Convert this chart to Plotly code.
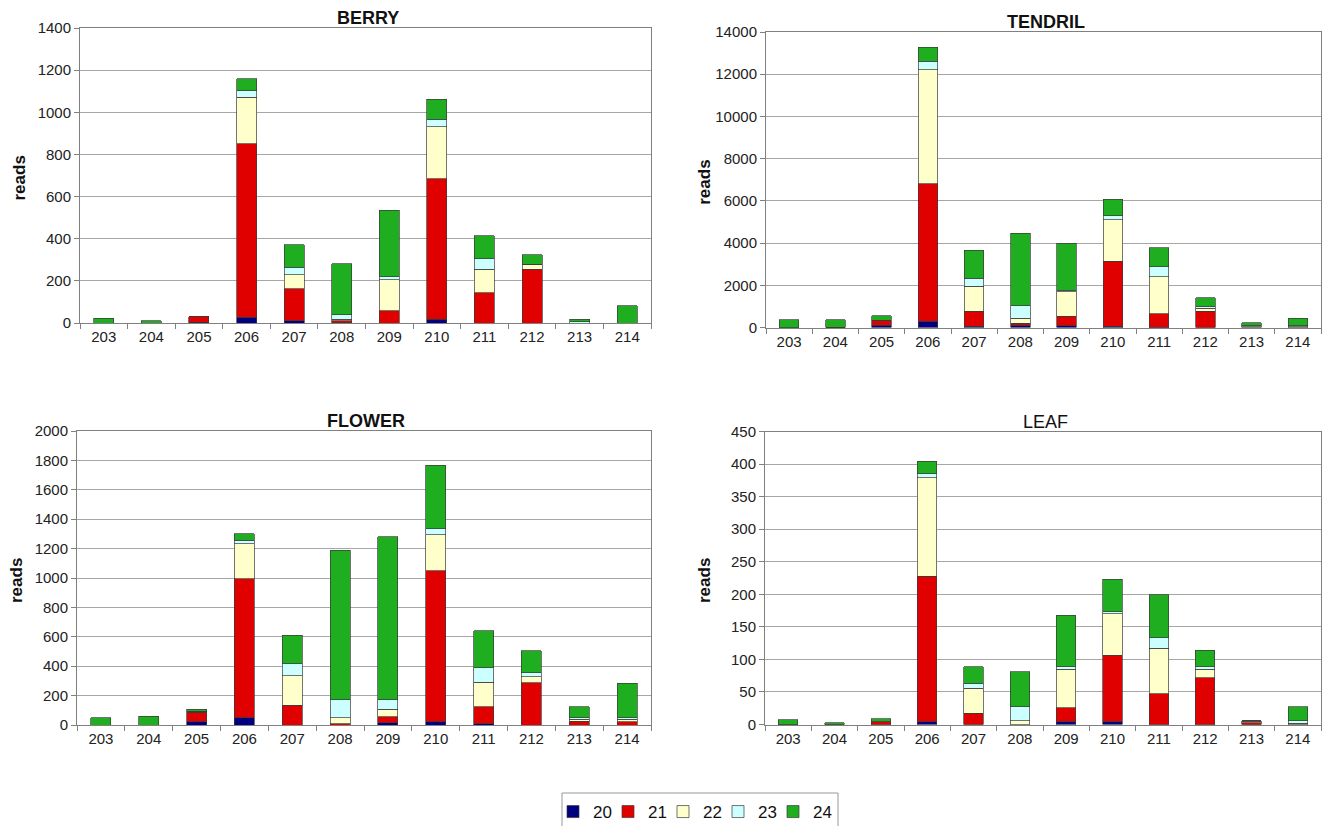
import plotly.graph_objects as go

# sRNA reads by cluster position (203-214), split by read length (20-24 nt)
positions = ["203", "204", "205", "206", "207", "208", "209", "210", "211", "212", "213", "214"]
lengths = ["20", "21", "22", "23", "24"]

berry_20 = [0, 0, 4, 27, 11, 2, 0, 19, 0, 0, 0, 0]
berry_21 = [0, 0, 26, 823, 151, 9, 59, 665, 144, 256, 0, 0]
berry_22 = [0, 0, 0, 221, 68, 7, 147, 248, 112, 22, 0, 0]
berry_23 = [0, 0, 0, 32, 35, 22, 13, 35, 50, 0, 5, 0]
berry_24 = [22, 11, 0, 55, 106, 242, 315, 95, 107, 45, 14, 83]

tendril_20 = [0, 0, 110, 290, 60, 100, 80, 50, 20, 0, 0, 0]
tendril_21 = [0, 20, 225, 6510, 720, 110, 450, 3080, 640, 770, 0, 0]
tendril_22 = [0, 0, 0, 5410, 1170, 220, 1170, 1975, 1740, 140, 40, 40]
tendril_23 = [0, 0, 0, 395, 390, 600, 60, 190, 470, 100, 50, 50]
tendril_24 = [370, 350, 225, 665, 1310, 3440, 2240, 790, 920, 410, 130, 340]

flower_20 = [0, 0, 23, 50, 0, 0, 14, 23, 8, 0, 0, 0]
flower_21 = [0, 0, 64, 945, 136, 10, 41, 1027, 117, 289, 25, 22]
flower_22 = [0, 0, 5, 239, 200, 40, 52, 245, 166, 40, 14, 17]
flower_23 = [0, 0, 0, 23, 82, 123, 66, 41, 99, 28, 11, 11]
flower_24 = [50, 61, 15, 45, 194, 1015, 1107, 430, 252, 148, 75, 233]

leaf_20 = [0, 0, 0, 4, 0, 0, 4, 4, 0, 0, 0, 0]
leaf_21 = [0, 0, 4, 224, 17, 0, 22, 102, 47, 72, 3, 0]
leaf_22 = [0, 0, 0, 151, 39, 6, 59, 64, 70, 13, 2, 2]
leaf_23 = [0, 0, 0, 6, 7, 21, 4, 3, 16, 4, 1, 4]
leaf_24 = [7, 3, 5, 19, 26, 54, 79, 50, 66, 25, 0, 21]

colors = {"20": "#000080", "21": "#e00000", "22": "#ffffcc", "23": "#ccffff", "24": "#1fae1f"}

panels = [
    # name, series, y max, y step, x extent (px), y extent (px from top), bold title
    ("BERRY", [berry_20, berry_21, berry_22, berry_23, berry_24], 1400, 200, (80, 651), (28, 323), True),
    ("TENDRIL", [tendril_20, tendril_21, tendril_22, tendril_23, tendril_24], 14000, 2000, (766, 1321), (32, 327.5), True),
    ("FLOWER", [flower_20, flower_21, flower_22, flower_23, flower_24], 2000, 200, (77, 651), (431, 725), True),
    ("LEAF", [leaf_20, leaf_21, leaf_22, leaf_23, leaf_24], 450, 50, (765, 1321), (431.5, 724.5), False),
]

W, H = 1324, 826
FONT = "Liberation Sans, Arial, sans-serif"

fig = go.Figure()
layout = {}
annotations = []

for i, (name, series, ymax, ystep, xd, yd, bold) in enumerate(panels):
    n = i + 1
    xa = "x" if n == 1 else f"x{n}"
    ya = "y" if n == 1 else f"y{n}"
    for ln, vals in zip(lengths, series):
        fig.add_trace(go.Bar(
            x=positions, y=vals, name=ln,
            xaxis=xa, yaxis=ya,
            marker=dict(color=colors[ln], line=dict(color="#3a3a3a", width=0.7)),
            legendgroup=ln, showlegend=(n == 1),
        ))
    layout[f"xaxis{'' if n == 1 else n}"] = dict(
        domain=[xd[0] / W, xd[1] / W], anchor=ya,
        type="category", tickson="boundaries", ticks="outside", ticklen=5,
        tickcolor="#808080", showline=True, linecolor="#808080", linewidth=1,
        mirror=True, showgrid=False, tickfont=dict(size=15, color="#222222", family=FONT),
        fixedrange=True,
    )
    layout[f"yaxis{'' if n == 1 else n}"] = dict(
        domain=[1 - yd[1] / H, 1 - yd[0] / H], anchor=xa,
        range=[0, ymax], dtick=ystep, tickformat="d", ticks="outside", ticklen=5,
        tickcolor="#808080", showline=True, linecolor="#808080", linewidth=1,
        mirror=True, showgrid=True, gridcolor="#a6a6a6", gridwidth=1,
        zeroline=False, tickfont=dict(size=15, color="#222222", family=FONT),
        fixedrange=True,
    )
    cx = (xd[0] + xd[1]) / 2 + 2
    annotations.append(dict(
        text=f"<b>{name}</b>" if bold else name, xref="paper", yref="paper",
        x=cx / W, y=1 - (yd[0] - 10) / H, xanchor="center", yanchor="middle",
        showarrow=False, font=dict(size=18, color="#111111", family=FONT),
    ))
    annotations.append(dict(
        text="<b>reads</b>", xref="paper", yref="paper", textangle=-90,
        x=(xd[0] - 61) / W, y=1 - ((yd[0] + yd[1]) / 2 + 3) / H,
        xanchor="center", yanchor="middle", showarrow=False,
        font=dict(size=17, color="#111111", family=FONT),
    ))

# blank trailing legend slot so the last label has room inside the legend
fig.add_trace(go.Bar(
    x=[positions[0]], y=[0], name="", xaxis="x", yaxis="y",
    marker=dict(color="rgba(0,0,0,0)", line=dict(width=0)),
    showlegend=True, hoverinfo="skip",
))

# frame around the legend entries
legend_box = dict(
    type="rect", xref="paper", yref="paper",
    x0=562 / W, x1=838 / W, y0=-0.02, y1=1 - 793 / H,
    line=dict(color="#999999", width=1), fillcolor="rgba(0,0,0,0)", layer="above",
)

fig.update_layout(
    width=W, height=H,
    margin=dict(l=0, r=0, t=0, b=0, autoexpand=False),
    paper_bgcolor="white", plot_bgcolor="white",
    barmode="stack", bargap=0.58,
    font=dict(family=FONT, size=15, color="#111111"),
    annotations=annotations,
    shapes=[legend_box],
    legend=dict(
        orientation="h", xref="container", yref="container",
        x=553 / W, xanchor="left", y=1 - 794 / H, yanchor="top",
        bgcolor="rgba(0,0,0,0)", borderwidth=0,
        font=dict(size=17, family=FONT, color="#111111"),
        entrywidth=10, entrywidthmode="pixels",
        traceorder="normal", itemclick=False, itemdoubleclick=False,
    ),
    **layout,
)

fig.write_html("out.html", config={"displayModeBar": False})
